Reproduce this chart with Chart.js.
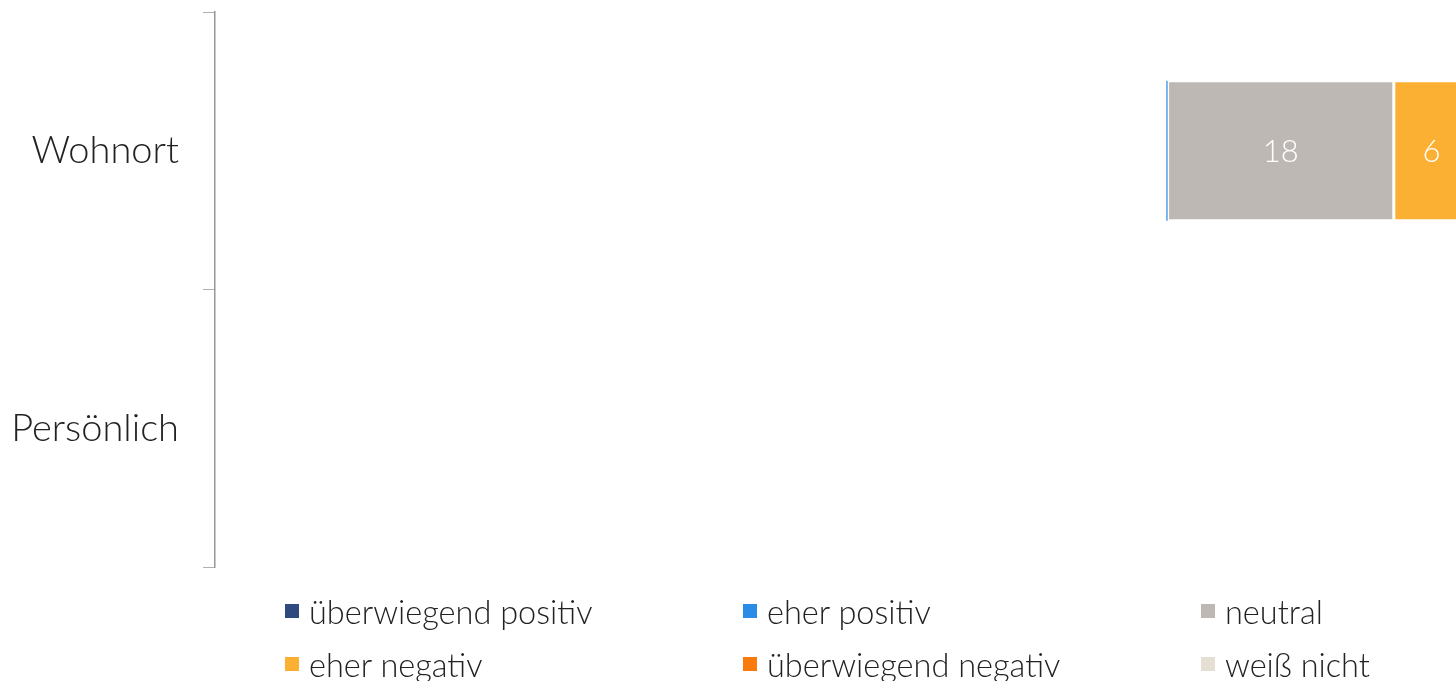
<!DOCTYPE html>
<html lang="de">
<head>
<meta charset="utf-8">
<title>Wohnort / Persönlich</title>
<script src="https://cdn.jsdelivr.net/npm/chart.js@4.4.1/dist/chart.umd.min.js"></script>
<style>
    html, body { margin: 0; padding: 0; background: #ffffff; }
    .chart-wrap { position: relative; width: 1456px; height: 681px; overflow: hidden; }
    #legend {
        position: absolute; left: 285px; top: 591px;
        display: grid; grid-template-columns: 458px 458px 255px; grid-auto-rows: 53px;
        font-family: Lato, "Open Sans", sans-serif; font-weight: 300; font-size: 32.5px; color: #222;
    }
    #legend .item { display: flex; align-items: center; height: 40px; white-space: nowrap; }
    #legend .box { width: 14px; height: 14px; margin-right: 10px; flex: none; }
</style>
</head>
<body>
<div class="chart-wrap">
    <canvas id="ratingChart"></canvas>
    <div id="legend"></div>
</div>
<script>
const categories = ['Wohnort', 'Persönlich'];
const seriesNames = ['überwiegend positiv', 'eher positiv', 'neutral', 'eher negativ', 'überwiegend negativ', 'weiß nicht'];
const seriesColors = ['#2e4a7f', '#2b8ce8', '#bdb8b4', '#fbb034', '#fb7a0c', '#e5dfd6'];

// values per series: [Wohnort, Persönlich]
const ueberwiegendPositiv = [null, null];
const eherPositiv = [0.1, null];
const neutral = [18, null];
const eherNegativ = [6, null];
const ueberwiegendNegativ = [null, null];
const weissNicht = [null, null];

const seriesValues = [ueberwiegendPositiv, eherPositiv, neutral, eherNegativ, ueberwiegendNegativ, weissNicht];

// draws the value in the middle of each segment
const segmentLabels = {
    id: 'segmentLabels',
    afterDatasetsDraw(chart) {
        const ctx = chart.ctx;
        const area = chart.chartArea;
        ctx.save();
        ctx.beginPath();
        ctx.rect(area.left, area.top, area.right - area.left, area.bottom - area.top);
        ctx.clip();
        ctx.font = '300 31px Lato, "Open Sans", sans-serif';
        ctx.fillStyle = '#ffffff';
        ctx.textAlign = 'center';
        ctx.textBaseline = 'middle';
        chart.data.datasets.forEach((ds, i) => {
            const meta = chart.getDatasetMeta(i);
            meta.data.forEach((bar, j) => {
                const v = ds.data[j];
                if (v == null || v < 1) return;
                const p = bar.getCenterPoint();
                ctx.fillText(String(v), p.x, p.y + 1);
            });
        });
        ctx.restore();
    }
};

const ctx = document.getElementById('ratingChart').getContext('2d');
const chart = new Chart(ctx, {
    type: 'bar',
    data: {
        labels: categories,
        datasets: seriesNames.map((name, i) => ({
            label: name,
            data: seriesValues[i],
            backgroundColor: seriesColors[i],
            borderColor: '#ffffff',
            borderWidth: i === 1 ? 0 : 1.5,
            borderSkipped: false,
            categoryPercentage: 1,
            barPercentage: 0.505
        }))
    },
    options: {
        indexAxis: 'y',
        responsive: true,
        maintainAspectRatio: false,
        animation: false,
        layout: {
            padding: { top: 12, bottom: 114, left: 0, right: 0 }
        },
        plugins: {
            legend: { display: false },
            tooltip: { enabled: false }
        },
        scales: {
            x: {
                stacked: true,
                display: false,
                min: -75.7,
                max: 23.05
            },
            y: {
                stacked: true,
                afterFit(scale) {
                    scale.width = 215;
                    scale.paddingTop = 0;
                    scale.paddingBottom = 0;
                },
                grid: {
                    drawOnChartArea: false,
                    drawTicks: true,
                    tickLength: 12,
                    tickColor: '#b0b0b0',
                    offset: true
                },
                border: {
                    display: true,
                    color: '#9a9494',
                    width: 1.5
                },
                ticks: {
                    color: '#222222',
                    padding: 24,
                    font: { family: 'Lato, "Open Sans", sans-serif', size: 38, weight: 300 }
                }
            }
        }
    },
    plugins: [segmentLabels]
});

// legend in three fixed columns
const legend = document.getElementById('legend');
chart.data.datasets.forEach(ds => {
    const item = document.createElement('div');
    item.className = 'item';
    const box = document.createElement('span');
    box.className = 'box';
    box.style.background = ds.backgroundColor;
    const text = document.createElement('span');
    text.textContent = ds.label;
    item.appendChild(box);
    item.appendChild(text);
    legend.appendChild(item);
});
</script>
</body>
</html>
